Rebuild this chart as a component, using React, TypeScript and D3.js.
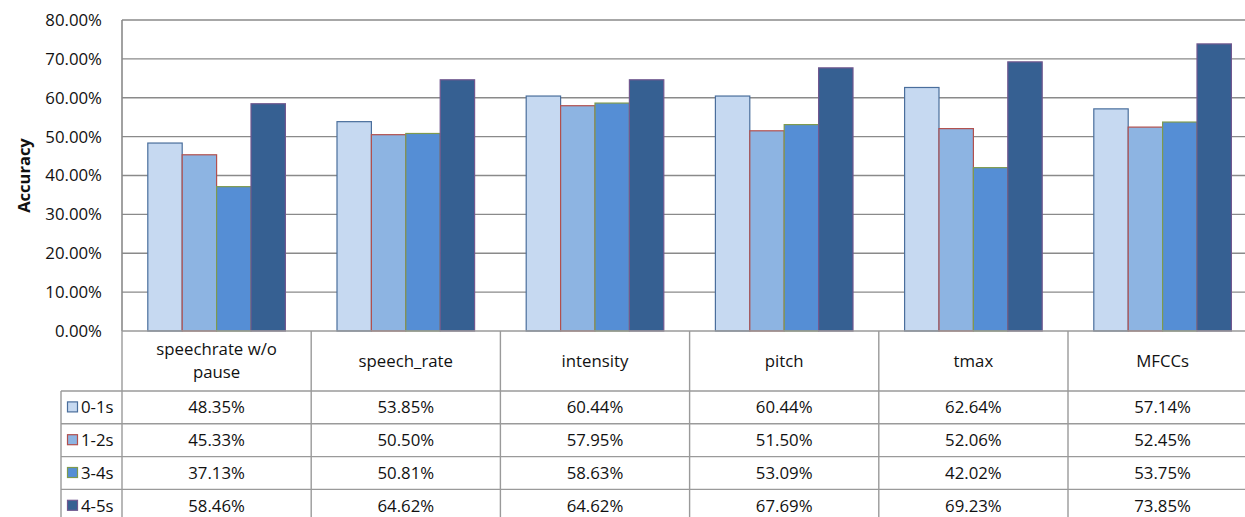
import React from "react";
import * as d3 from "d3";

const categories = ["speechrate w/o pause", "speech_rate", "intensity", "pitch", "tmax", "MFCCs"];
const categoryLines = [["speechrate w/o", "pause"], ["speech_rate"], ["intensity"], ["pitch"], ["tmax"], ["MFCCs"]];
const seriesNames = ["0-1s", "1-2s", "3-4s", "4-5s"];
const s01 = [48.35, 53.85, 60.44, 60.44, 62.64, 57.14];
const s12 = [45.33, 50.5, 57.95, 51.5, 52.06, 52.45];
const s34 = [37.13, 50.81, 58.63, 53.09, 42.02, 53.75];
const s45 = [58.46, 64.62, 64.62, 67.69, 69.23, 73.85];
const seriesValues = [s01, s12, s34, s45];
const yTicks = [0, 10, 20, 30, 40, 50, 60, 70, 80];

const fills = ["#C6D9F1", "#8DB4E2", "#558ED5", "#366092"];
const strokes = ["#4A6E9C", "#B2504E", "#7E9A4E", "#71588F"];

const W = 1245;
const H = 517;
const left = 122;
const colW = 189.2;
const plotTop = 20;
const plotBottom = 331;
const headerBottom = 391;
const rowH = 32.8;
const legendLeft = 61;
const font = "'Open Sans', 'Noto Sans', sans-serif";
const gridColor = "#8a8a8a";
const tableColor = "#9a9a9a";
const fs = 16.8;

export default function App() {
  const x = d3.scaleBand<string>().domain(categories).range([left, left + colW * categories.length]).padding(0);
  const xi = d3.scaleBand<string>().domain(seriesNames).range([0, colW]).paddingInner(0).paddingOuter(0.75);
  const y = d3.scaleLinear().domain([0, 80]).range([plotBottom, plotTop]);
  const right = left + colW * categories.length;
  const fmt = (v: number) => v.toFixed(2) + "%";

  return (
    <div style={{ position: "fixed", left: 0, top: 0 }}>
      <svg width={W} height={H} style={{ display: "block", background: "#fff" }} fontFamily={font}>
        {/* gridlines */}
        {yTicks.filter((t) => t > 0).map((t) => (
          <line key={t} x1={left} x2={right} y1={y(t)} y2={y(t)} stroke={gridColor} strokeWidth={1.4} />
        ))}
        {/* y tick labels */}
        {yTicks.map((t) => (
          <text key={t} x={102} y={y(t)} dy="0.35em" textAnchor="end" fontSize={fs} fill="#111">
            {fmt(t)}
          </text>
        ))}
        <text
          transform={`translate(24,${(plotTop + plotBottom) / 2}) rotate(-90)`}
          textAnchor="middle"
          dy="0.35em"
          fontSize={16.5}
          fontWeight="bold"
          fill="#111"
        >
          Accuracy
        </text>
        {/* bars */}
        {categories.map((c, ci) =>
          seriesNames.map((s, si) => {
            const v = seriesValues[si][ci];
            const bx = (x(c) as number) + (xi(s) as number);
            return (
              <rect
                key={c + s}
                x={bx}
                y={y(v)}
                width={xi.bandwidth()}
                height={plotBottom - y(v)}
                fill={fills[si]}
                stroke={strokes[si]}
                strokeWidth={1.2}
              />
            );
          })
        )}
        {/* y axis */}
        <line x1={left} x2={left} y1={plotTop} y2={plotBottom} stroke={gridColor} strokeWidth={1.6} />
        {/* data table */}
        <line x1={left} x2={right} y1={plotBottom} y2={plotBottom} stroke={tableColor} strokeWidth={1.6} />
        {seriesNames.map((s, si) => {
          const ry = headerBottom + rowH * si;
          return (
            <line key={s} x1={legendLeft} x2={right} y1={ry} y2={ry} stroke={tableColor} strokeWidth={1.4} />
          );
        })}
        <line x1={legendLeft} x2={right} y1={headerBottom + rowH * 4} y2={headerBottom + rowH * 4} stroke={tableColor} strokeWidth={1.4} />
        <line x1={legendLeft} x2={legendLeft} y1={headerBottom} y2={headerBottom + rowH * 4} stroke={tableColor} strokeWidth={1.4} />
        {categories.map((c) => (
          <line key={c} x1={x(c)} x2={x(c)} y1={plotBottom} y2={headerBottom + rowH * 4} stroke={tableColor} strokeWidth={1.4} />
        ))}
        <line x1={right} x2={right} y1={plotBottom} y2={headerBottom + rowH * 4} stroke={tableColor} strokeWidth={1.4} />
        {/* category headers */}
        {categories.map((c, ci) => {
          const lines = categoryLines[ci];
          const cx = (x(c) as number) + colW / 2;
          const cy = (plotBottom + headerBottom) / 2;
          return (
            <text key={c} x={cx} textAnchor="middle" fontSize={fs} fill="#111">
              {lines.map((l, li) => (
                <tspan key={li} x={cx} y={cy + (li - (lines.length - 1) / 2) * 23} dy="0.35em">
                  {l}
                </tspan>
              ))}
            </text>
          );
        })}
        {/* legend keys and values */}
        {seriesNames.map((s, si) => {
          const cy = headerBottom + rowH * si + rowH / 2;
          return (
            <g key={s}>
              <rect x={67.5} y={cy - 5.5} width={10} height={10} fill={fills[si]} stroke={strokes[si]} strokeWidth={1.2} />
              <text x={81} y={cy} dy="0.35em" fontSize={fs} fill="#111">
                {s}
              </text>
              {categories.map((c, ci) => (
                <text key={c} x={(x(c) as number) + colW / 2} y={cy} dy="0.35em" textAnchor="middle" fontSize={fs} fill="#111">
                  {fmt(seriesValues[si][ci])}
                </text>
              ))}
            </g>
          );
        })}
      </svg>
    </div>
  );
}
